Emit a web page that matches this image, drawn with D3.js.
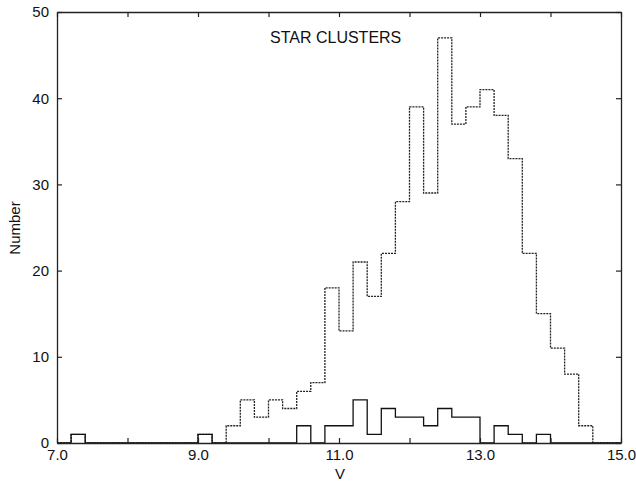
<!DOCTYPE html>
<html>
<head>
<meta charset="utf-8">
<script src="https://d3js.org/d3.v7.min.js"></script>
<style>
 body { margin: 0; background: #fff; }
 text { font-family: "Liberation Sans", Arial, sans-serif; fill: #111; }
</style>
</head>
<body>
<svg width="636" height="487"></svg>
<script>
// bin left edges (V magnitude, width 0.2)
var binStart = [7.0, 7.2, 7.4, 7.6, 7.8, 8.0, 8.2, 8.4, 8.6, 8.8,
 9.0, 9.2, 9.4, 9.6, 9.8, 10.0, 10.2, 10.4, 10.6, 10.8,
 11.0, 11.2, 11.4, 11.6, 11.8, 12.0, 12.2, 12.4, 12.6, 12.8,
 13.0, 13.2, 13.4, 13.6, 13.8, 14.0, 14.2, 14.4, 14.6, 14.8];
// all clusters (dashed)
var allCounts = [0, 1, 0, 0, 0, 0, 0, 0, 0, 0,
 1, 0, 2, 5, 3, 5, 4, 6, 7, 18,
 13, 21, 17, 22, 28, 39, 29, 47, 37, 39,
 41, 38, 33, 22, 15, 11, 8, 2, 0, 0];
// subset (solid)
var subCounts = [0, 1, 0, 0, 0, 0, 0, 0, 0, 0,
 1, 0, 0, 0, 0, 0, 0, 2, 0, 2,
 2, 5, 1, 4, 3, 3, 2, 4, 3, 3,
 0, 2, 1, 0, 1, 0, 0, 0, 0, 0];
var binWidth = 0.2;
var xTicks = [7, 8, 9, 10, 11, 12, 13, 14, 15];
var xLabels = [7, 9, 11, 13, 15];
var yTicks = [0, 10, 20, 30, 40, 50];

var svg = d3.select("svg");
var mLeft = 57, mRight = 621, mTop = 12, mBottom = 443;

var x = d3.scaleLinear().domain([7, 15]).range([mLeft, mRight]);
var y = d3.scaleLinear().domain([0, 50]).range([mBottom, mTop]);

// turn counts into a step outline
function steps(counts) {
 var pts = [[binStart[0], 0]];
 counts.forEach(function(c, i) {
 pts.push([binStart[i], c]);
 pts.push([binStart[i] + binWidth, c]);
 });
 pts.push([binStart[binStart.length - 1] + binWidth, 0]);
 return pts;
}
var line = d3.line()
 .x(function(d) { return x(d[0]); })
 .y(function(d) { return y(d[1]); });

svg.append("path")
 .attr("d", line(steps(allCounts)))
 .attr("fill", "none")
 .attr("stroke", "#222")
 .attr("stroke-width", 1.3)
 .attr("stroke-dasharray", "2,1");

svg.append("path")
 .attr("d", line(steps(subCounts)))
 .attr("fill", "none")
 .attr("stroke", "#111")
 .attr("stroke-width", 1.3);

// axes, ticks point inward
var fmt = function(d) { return xLabels.indexOf(d) >= 0 ? d3.format(".1f")(d) : ""; };

svg.append("g")
 .attr("transform", "translate(0," + mBottom + ")")
 .call(d3.axisBottom(x).tickValues(xTicks).tickSizeInner(-5).tickSizeOuter(0).tickPadding(6).tickFormat(fmt));
svg.append("g")
 .attr("transform", "translate(0," + mTop + ")")
 .call(d3.axisTop(x).tickValues(xTicks).tickSizeInner(-5).tickSizeOuter(0).tickFormat(""));
svg.append("g")
 .attr("transform", "translate(" + mLeft + ",0)")
 .call(d3.axisLeft(y).tickValues(yTicks).tickSizeInner(-5).tickSizeOuter(0).tickPadding(8));
svg.append("g")
 .attr("transform", "translate(" + mRight + ",0)")
 .call(d3.axisRight(y).tickValues(yTicks).tickSizeInner(-5).tickSizeOuter(0).tickFormat(""));

svg.selectAll(".domain").attr("stroke", "#222").attr("stroke-width", 1.3);
svg.selectAll(".tick line").attr("stroke", "#222").attr("stroke-width", 1.2);
svg.selectAll(".tick text")
 .attr("font-size", "15px")
 .attr("font-family", "Liberation Sans, Arial, sans-serif")
 .attr("fill", "#111");

// labels
svg.append("text")
 .attr("x", 340)
 .attr("y", 479)
 .attr("text-anchor", "middle")
 .attr("font-size", "15px")
 .text("V");

svg.append("text")
 .attr("transform", "translate(20,228) rotate(-90)")
 .attr("text-anchor", "middle")
 .attr("font-size", "15px")
 .text("Number");

svg.append("text")
 .attr("x", 270)
 .attr("y", 43)
 .attr("font-size", "16px")
 .text("STAR CLUSTERS");
</script>
</body>
</html>
